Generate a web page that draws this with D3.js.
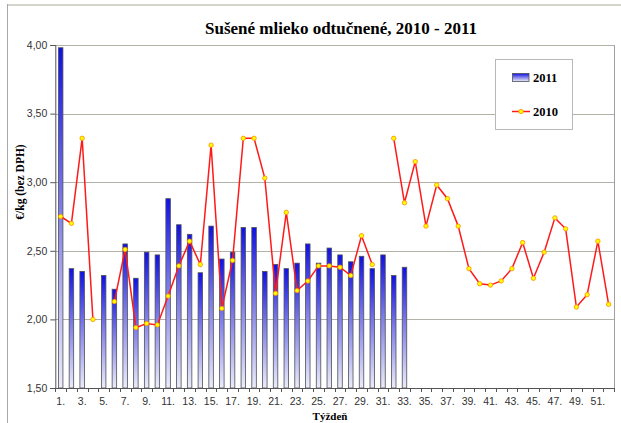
<!DOCTYPE html>
<html>
<head>
<meta charset="utf-8">
<script src="https://cdn.jsdelivr.net/npm/d3@7"></script>
<style>
  body { margin: 0; background: #fff; }
  svg { display: block; }
</style>
</head>
<body>
<div id="chart"></div>
<script>
// Data

var weeks = d3.range(1, 53);
var tickWeeks = d3.range(1, 53, 2);
var yTicks = [1.5, 2.0, 2.5, 3.0, 3.5, 4.0];

var prices2011 = [3.98, 2.37, 2.35, null, 2.32, 2.22, 2.55, 2.30, 2.49, 2.47,
                  2.88, 2.69, 2.62, 2.34, 2.68, 2.44, 2.49, 2.67, 2.67, 2.35,
                  2.40, 2.37, 2.41, 2.55, 2.41, 2.52, 2.47, 2.42, 2.46, 2.37,
                  2.47, 2.32, 2.38];

var prices2010 = [2.75, 2.70, 3.32, 2.00, null, 2.13, 2.51, 1.94, 1.97, 1.96,
                  2.17, 2.39, 2.57, 2.40, 3.27, 2.08, 2.43, 3.32, 3.32, 3.03,
                  2.19, 2.78, 2.21, 2.28, 2.39, 2.39, 2.38, 2.32, 2.61, 2.40,
                  null, 3.32, 2.85, 3.15, 2.68, 2.98, 2.88, 2.68, 2.37, 2.26,
                  2.25, 2.28, 2.37, 2.56, 2.30, 2.49, 2.74, 2.66, 2.09, 2.18,
                  2.57, 2.11];

var title = "Sušené mlieko odtučnené, 2010 - 2011";
var yTitle = "€/kg (bez DPH)";
var xTitle = "Týždeň";

// Chart variables

var W = 621, H = 423;
var plot = {left: 55.3, right: 614, top: 45, bottom: 388};

var svg = d3.select("#chart").append("svg")
    .attr("width", W)
    .attr("height", H);

// gradient for the bars
var grad = svg.append("defs").append("linearGradient")
    .attr("id", "barGrad")
    .attr("x1", 0).attr("y1", 0).attr("x2", 0).attr("y2", 1);
grad.append("stop").attr("offset", "0%").attr("stop-color", "#1010e6");
grad.append("stop").attr("offset", "45%").attr("stop-color", "#7a7ae8");
grad.append("stop").attr("offset", "100%").attr("stop-color", "#ececfa");

// outer frame
svg.append("line").attr("x1", 7).attr("x2", W).attr("y1", 5).attr("y2", 5)
    .attr("stroke", "#d4d4cc").attr("stroke-width", 2);
svg.append("line").attr("x1", 7.5).attr("x2", 7.5).attr("y1", 4).attr("y2", H)
    .attr("stroke", "#a8a8a8");

// Scales

var x = d3.scaleBand()
    .domain(weeks)
    .range([plot.left, plot.right])
    .padding(0);

var y = d3.scaleLinear()
    .domain([1.5, 4.0])
    .range([plot.bottom, plot.top]);

// Gridlines

svg.append("g").selectAll("line")
    .data(yTicks.slice(1))
    .enter().append("line")
    .attr("x1", plot.left).attr("x2", plot.right)
    .attr("y1", function(d) { return Math.round(y(d)) + 0.5; })
    .attr("y2", function(d) { return Math.round(y(d)) + 0.5; })
    .attr("stroke", "#b4b2a6")
    .attr("stroke-width", 1);

// right border of plot
svg.append("line")
    .attr("x1", plot.right + 0.5).attr("x2", plot.right + 0.5)
    .attr("y1", plot.top).attr("y2", plot.bottom)
    .attr("stroke", "#a0a0a0");

// Bars (2011)

var barW = x.bandwidth() * 0.42;

svg.append("g").selectAll("rect")
    .data(prices2011.map(function(v, i) { return {week: weeks[i], value: v}; })
        .filter(function(d) { return d.value != null; }))
    .enter().append("rect")
    .attr("x", function(d) { return x(d.week) + (x.bandwidth() - barW) / 2; })
    .attr("y", function(d) { return y(d.value); })
    .attr("width", barW)
    .attr("height", function(d) { return y(1.5) - y(d.value); })
    .attr("fill", "url(#barGrad)")
    .attr("stroke", "#505058")
    .attr("stroke-width", 0.8);

// Axes

var yAxis = svg.append("g")
    .attr("transform", "translate(" + plot.left + ",0)")
    .call(d3.axisLeft(y)
        .tickValues(yTicks)
        .tickSize(5)
        .tickPadding(3)
        .tickFormat(function(d) { return d3.format(".2f")(d).replace(".", ","); }));

var xAxis = svg.append("g")
    .attr("transform", "translate(0," + plot.bottom + ")")
    .call(d3.axisBottom(x)
        .tickValues(tickWeeks)
        .tickSize(0)
        .tickPadding(10)
        .tickFormat(function(d) { return d + "."; }));

// tick marks between categories
svg.append("g").selectAll("line")
    .data(weeks.concat([53]))
    .enter().append("line")
    .attr("x1", function(d) { return Math.round(d === 53 ? plot.right : x(d)) + 0.5; })
    .attr("x2", function(d) { return Math.round(d === 53 ? plot.right : x(d)) + 0.5; })
    .attr("y1", plot.bottom).attr("y2", plot.bottom + 4)
    .attr("stroke", "#555");

[yAxis, xAxis].forEach(function(a) {
    a.selectAll(".domain").attr("stroke", "#555").attr("stroke-width", 1);
    a.selectAll(".tick line").attr("stroke", "#555");
    a.selectAll("text")
        .attr("font-family", "'Liberation Sans', Arial, sans-serif")
        .attr("font-size", "10.5px")
        .attr("fill", "#333");
});
xAxis.select(".domain").attr("d", "M" + plot.left + ",0.5H" + plot.right);

// Line (2010)

var pts = prices2010.map(function(v, i) { return {week: weeks[i], value: v}; });

var line = d3.line()
    .defined(function(d) { return d.value != null; })
    .x(function(d) { return x(d.week) + x.bandwidth() / 2; })
    .y(function(d) { return y(d.value); });

svg.append("path")
    .datum(pts)
    .attr("d", line)
    .attr("fill", "none")
    .attr("stroke", "#ff1a1a")
    .attr("stroke-width", 1.5);

svg.append("g").selectAll("circle")
    .data(pts.filter(function(d) { return d.value != null; }))
    .enter().append("circle")
    .attr("cx", function(d) { return x(d.week) + x.bandwidth() / 2; })
    .attr("cy", function(d) { return y(d.value); })
    .attr("r", 2.2)
    .attr("fill", "#ffff00")
    .attr("stroke", "#ff8c00")
    .attr("stroke-width", 0.8);

// Legend

var legend = svg.append("g");
legend.append("rect")
    .attr("x", 495.5).attr("y", 59.5)
    .attr("width", 77).attr("height", 70)
    .attr("fill", "#fff")
    .attr("stroke", "#b8b8b8");
legend.append("rect")
    .attr("x", 512.5).attr("y", 73.5)
    .attr("width", 16.5).attr("height", 8)
    .attr("fill", "url(#barGrad)")
    .attr("stroke", "#505058")
    .attr("stroke-width", 0.8);
legend.append("line")
    .attr("x1", 512).attr("x2", 530).attr("y1", 111.5).attr("y2", 111.5)
    .attr("stroke", "#ff1a1a").attr("stroke-width", 1.5);
legend.append("circle")
    .attr("cx", 521).attr("cy", 111.5).attr("r", 2.2)
    .attr("fill", "#ffff00").attr("stroke", "#ff8c00").attr("stroke-width", 0.8);
legend.selectAll("text")
    .data(["2011", "2010"])
    .enter().append("text")
    .attr("x", 533)
    .attr("y", function(d, i) { return i === 0 ? 82 : 116; })
    .attr("font-family", "'Liberation Serif', 'Times New Roman', serif")
    .attr("font-weight", "bold")
    .attr("font-size", "12.5px")
    .attr("fill", "#000")
    .text(function(d) { return d; });

// Titles

svg.append("text")
    .attr("x", 341).attr("y", 34)
    .attr("text-anchor", "middle")
    .attr("font-family", "'Liberation Serif', 'Times New Roman', serif")
    .attr("font-weight", "bold")
    .attr("font-size", "17px")
    .text(title);

svg.append("text")
    .attr("transform", "translate(24,182) rotate(-90)")
    .attr("text-anchor", "middle")
    .attr("font-family", "'Liberation Serif', 'Times New Roman', serif")
    .attr("font-weight", "bold")
    .attr("font-size", "11.5px")
    .text(yTitle);

// x title sits at the very bottom edge, as in the original
svg.append("text")
    .attr("x", 330).attr("y", 420)
    .attr("text-anchor", "middle")
    .attr("font-family", "'Liberation Serif', 'Times New Roman', serif")
    .attr("font-weight", "bold")
    .attr("font-size", "11px")
    .text(xTitle);
</script>
</body>
</html>
